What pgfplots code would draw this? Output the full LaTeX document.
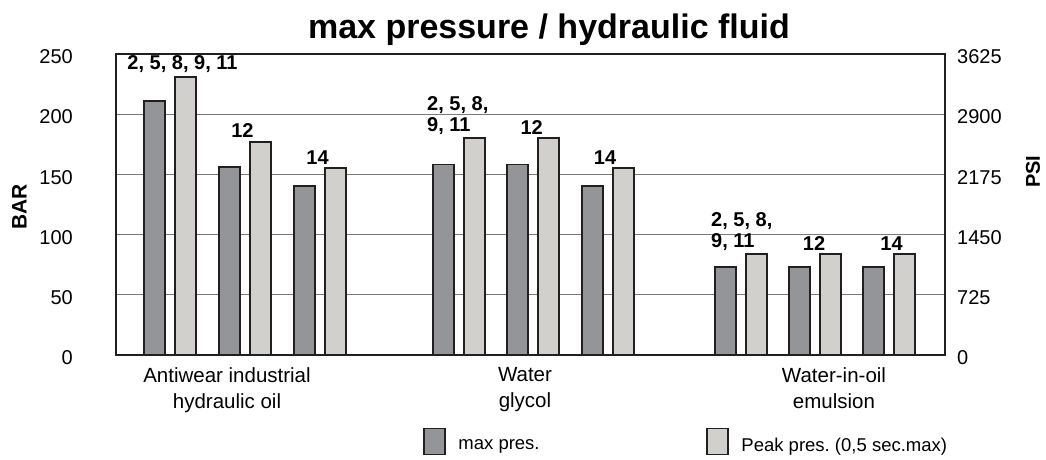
\documentclass[border=0pt]{standalone}
\usepackage{fontspec}
\setmainfont{Liberation Sans}
\usepackage{pgfplots}
\usepackage{pgfplotstable}
\pgfplotsset{compat=1.18}
\definecolor{darkbar}{HTML}{939598}
\definecolor{lightbar}{HTML}{D1D0CC}
\definecolor{edge}{HTML}{231F20}
\definecolor{gridc}{HTML}{7A7A7A}

% max pres. (BAR)
\pgfplotstableread{
x y
154.5 211
229.5 156
304.5 140
443.5 158
517.5 158
592.5 140
725.5 73
799.5 73
873.5 73
}\darkdata
% Peak pres. (0,5 sec.max) (BAR)
\pgfplotstableread{
x y
185.5 231
260.5 177
335.5 155
474.5 180
548.5 180
623.5 155
756.5 83.5
830.5 83.5
904.5 83.5
}\lightdata

\begin{document}
\frenchspacing
\begin{tikzpicture}
\path[use as bounding box] (0pt,0pt) rectangle (1046pt,459pt);
\begin{axis}[
  at={(116pt,104.5pt)}, anchor=south west,
  scale only axis, width=829pt, height=300.5pt,
  xmin=116, xmax=945, ymin=0, ymax=250,
  ytick={0,50,...,250},
  xtick={227,525,834},
  xticklabels={{Antiwear industrial\\hydraulic oil},{Water\\glycol},{Water-in-oil\\emulsion}},
  xticklabel style={align=center, font=\fontsize{20.5}{25.5}\selectfont, anchor=north, inner sep=0pt, yshift=-13pt},
  yticklabel style={font=\fontsize{20}{24}\selectfont, anchor=east, inner sep=0pt, xshift=-43pt, yshift=-3pt},
  /pgf/number format/assume math mode=true,
  major tick length=0pt,
  ymajorgrids, grid style={gridc, line width=1.2pt},
  axis line style={edge, line width=2pt},
  title={max pressure / hydraulic fluid},
  title style={font=\fontsize{34}{40}\selectfont\bfseries, at={(axis description cs:0.5223,1)}, anchor=base, yshift=10pt, inner sep=0pt},
  ylabel={BAR},
  ylabel style={font=\fontsize{21}{25}\selectfont\bfseries, at={(axis description cs:-0.1164,0.491)}, anchor=center, inner sep=0pt},
  legend style={draw=none, fill=none, inner sep=0pt, column sep=0pt, row sep=0pt,
    at={(axis description cs:0.3706,-0.2895)}, anchor=west,
    font=\fontsize{18.5}{22}\selectfont, nodes={inner sep=0pt, yshift=-2pt}},
  legend columns=2,
  legend cell align=left,
]
\addlegendimage{legend image code/.code={\draw[fill=darkbar, draw=edge, line width=1.6pt] (0pt,-11pt) rectangle (21pt,15pt); \path (34pt,0pt);}}
\addlegendentry{\makebox[248pt][l]{max pres.}}
\addlegendimage{legend image code/.code={\draw[fill=lightbar, draw=edge, line width=1.6pt] (0pt,-11pt) rectangle (21pt,15pt); \path (34pt,0pt);}}
\addlegendentry{Peak pres. (0,5 sec.max)}

\addplot[ybar, bar width=21, bar shift=0pt, fill=darkbar, draw=edge, line width=1.6pt, forget plot] table[x=x,y=y] {\darkdata};
\addplot[ybar, bar width=21, bar shift=0pt, fill=lightbar, draw=edge, line width=1.6pt, forget plot] table[x=x,y=y] {\lightdata};

\begin{scope}[every node/.style={font=\fontsize{20}{20.5}\selectfont\bfseries, inner sep=0pt}]
\node[anchor=south, yshift=3.7pt] at (axis cs:182.5,231) {2, 5, 8, 9, 11};
\node[anchor=south, yshift=3.7pt] at (axis cs:242.5,177) {12};
\node[anchor=south, yshift=3.7pt] at (axis cs:317.5,155) {14};
\node[anchor=south west, align=left, yshift=3.7pt] at (axis cs:427,180) {2, 5, 8,\\9, 11};
\node[anchor=south, yshift=3.7pt] at (axis cs:531.7,180) {12};
\node[anchor=south, yshift=3.7pt] at (axis cs:605,155) {14};
\node[anchor=south west, align=left, yshift=3.7pt] at (axis cs:711,83.5) {2, 5, 8,\\9, 11};
\node[anchor=south, yshift=3.7pt] at (axis cs:814,83.5) {12};
\node[anchor=south, yshift=3.7pt] at (axis cs:891.5,83.5) {14};
\end{scope}
\end{axis}
\begin{axis}[
  at={(116pt,104.5pt)}, anchor=south west,
  scale only axis, width=829pt, height=300.5pt,
  xmin=116, xmax=945, ymin=0, ymax=3625,
  ytick={0,725,1450,2175,2900,3625},
  axis x line=none, axis y line*=right,
  major tick length=0pt,
  axis line style={edge, line width=2pt},
  yticklabel style={font=\fontsize{20}{24}\selectfont, anchor=west, inner sep=0pt, xshift=12pt, yshift=-3pt},
  /pgf/number format/assume math mode=true,
  /pgf/number format/1000 sep={},
  ylabel={PSI},
  ylabel style={font=\fontsize{20}{24}\selectfont\bfseries, at={(axis description cs:1.1062,0.6083)}, anchor=center, inner sep=0pt, rotate=0},
]
\end{axis}
\end{tikzpicture}
\end{document}
